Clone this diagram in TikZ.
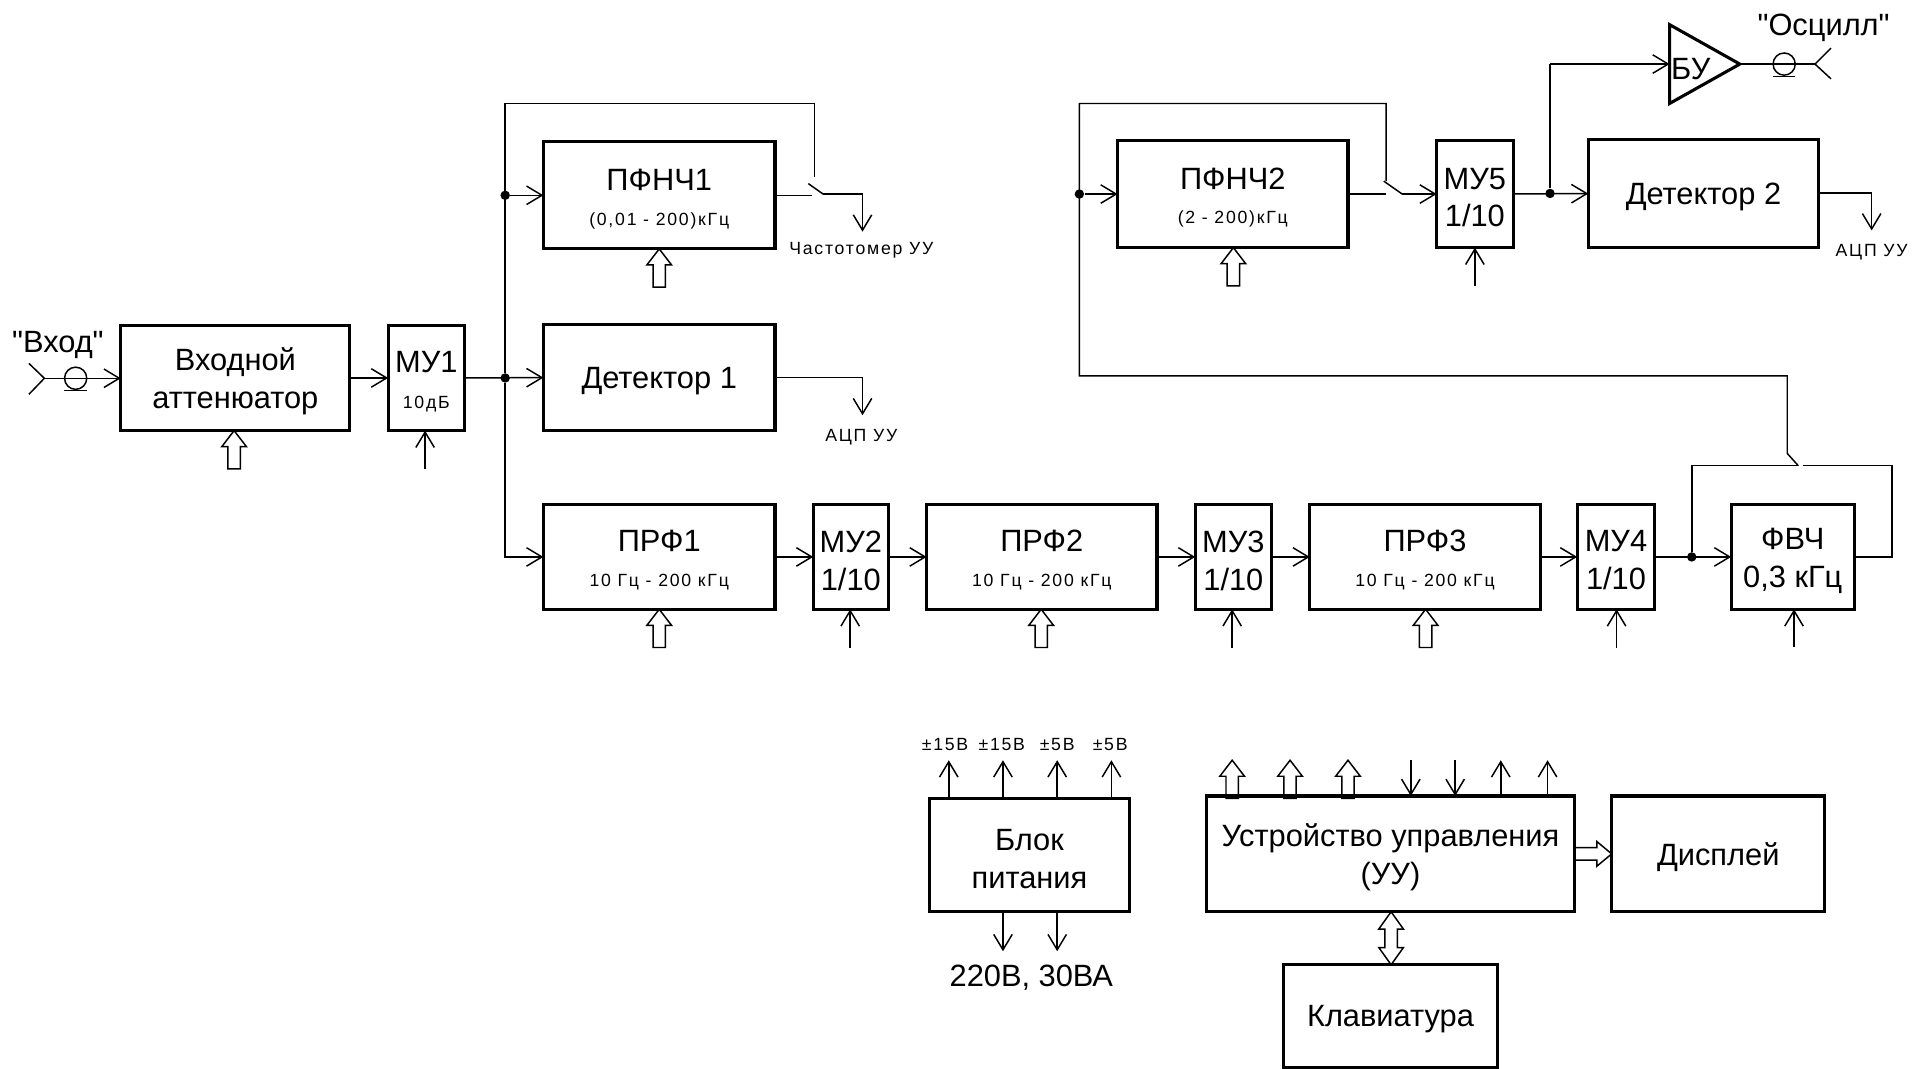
\documentclass[tikz,border=0pt]{standalone}
\usepackage{fontspec}
\setmainfont{Liberation Sans}
\newfontfamily\smf[LetterSpace=10]{Liberation Sans}
\newfontfamily\qf{Liberation Sans}
\usetikzlibrary{arrows.meta,calc}
\newcommand\bigf{\fontsize{15}{18.5}\selectfont}
\newcommand\smlf{\smf\fontsize{8.6}{10}\selectfont}
\tikzset{
  box/.style={draw,line width=1.5pt,inner sep=0pt,outer sep=0pt},
  ln/.style={line width=0.72pt,line join=miter},
  conn/.style={ln,-{Straight Barb[length=7.5pt,width=9pt,line width=0.72pt]}},
  dotn/.style={circle,fill=black,inner sep=0pt,minimum size=4.6pt},
  lbl/.style={inner sep=0pt,align=center,font=\bigf,yshift=-1.7pt},
  slbl/.style={inner sep=0pt,align=center,font=\smlf,yshift=-1.2pt},
  holarrow/.pic={\draw[ln] (0,0)--(-10,13)--(-5,13)--(-5,31)--(5,31)--(5,13)--(10,13)--cycle;},
}
\newcommand\blk[6]{%
  \pgfmathsetmacro\cxx{(#2+#4)/2}\pgfmathsetmacro\cyy{(#3+#5)/2}%
  \node[box,minimum width={(#4-#2)*0.6pt},minimum height={(#5-#3)*0.6pt}] (#1) at (\cxx,\cyy) {};
  \node[lbl] (#1t) at (#1) {#6};}
% control input from below: node, x, free-end y
\newcommand\ctl[3]{\coordinate (f#1) at (#2,#3); \draw[conn] (f#1) -- (f#1 |- #1.south);}
\newcommand\hol[2]{\coordinate (h#1) at (#2,0); \pic at (h#1 |- #1.south) {holarrow};}
\begin{document}
\begin{tikzpicture}[x=0.6pt,y=-0.6pt]
\useasboundingbox (0,0) rectangle (1568,867);
% blocks
\blk{att}{98}{264}{284}{349.5}{Входной\\аттенюатор}
\blk{muo}{315}{264}{377}{349.5}{МУ1\\[-1pt]{\smlf 10дБ}}
\blk{pfa}{441}{115}{629}{202}{ПФНЧ1\\[-1.5pt]{\smlf (0,01 - 200)кГц}}
\blk{deta}{441}{263}{629}{349.5}{Детектор 1}
\blk{prfa}{441}{409.5}{629}{494.5}{ПРФ1\\[-1.5pt]{\smlf 10 Гц - 200 кГц}}
\blk{mub}{660}{409.5}{721}{494.5}{МУ2\\1/10}
\blk{prfb}{752}{409.5}{939}{494.5}{ПРФ2\\[-1.5pt]{\smlf 10 Гц - 200 кГц}}
\blk{muc}{970}{409.5}{1032}{494.5}{МУ3\\1/10}
\blk{prfc}{1063}{409.5}{1250}{494.5}{ПРФ3\\[-1.5pt]{\smlf 10 Гц - 200 кГц}}
\blk{mud}{1280}{409.5}{1343}{494.5}{МУ4\\1/10}
\blk{fvc}{1405}{409.5}{1505}{494.5}{ФВЧ\\0,3 кГц}
\blk{pfb}{907}{114}{1094}{201}{ПФНЧ2\\[-1.5pt]{\smlf (2 - 200)кГц}}
\blk{mue}{1166}{114}{1228}{201}{МУ5\\1/10}
\blk{detb}{1289}{113}{1476}{200.5}{Детектор 2}
\blk{blok}{754}{648}{917}{740}{Блок\\питания}
\blk{uu}{979}{646}{1278}{740}{Устройство управления\\(УУ)}
\blk{dsp}{1308}{646}{1481}{739.5}{Дисплей}
\blk{kla}{1042}{783}{1215}{866}{Клавиатура}
% buffer
\coordinate (ba) at (1355,20); \coordinate (bb) at (1355,84); \coordinate (bc) at (1412,52);
\draw[line width=1.5pt,line join=miter] (ba)--(bc)--(bb)--cycle;
\node[lbl,anchor=west] (bu) at (1356,53) {БУ};
% input connector
\node[lbl] (vh) at (47,277) {\qf"Вход"};
\coordinate (iv) at (36,307); \coordinate (iu) at (23.5,295); \coordinate (id) at (23.5,320);
\draw[ln] (iu)--(iv)--(id);
\draw[conn] (iv) -- (iv -| att.west);
\draw[ln] (61.4,307) ellipse (9 and 9);
\draw[ln] (52,317) -- (70.5,317);
% main line
\draw[conn] (att) -- (muo);
\node[dotn] (ja) at (410,306.75) {};
\node[dotn] (jb) at (410,158.5) {};
\draw[conn] (muo) -- (deta);
\draw[conn] (ja) |- (prfa);
\draw[conn] (jb) -- (pfa);
\coordinate (tl) at (410,84); \coordinate (tr) at (661,84); \coordinate (sa) at (661,144);
\draw[ln] (ja) -- (tl) -- (tr) -- (sa);
\coordinate (sb) at (656,149); \coordinate (sc) at (668,157.5); \coordinate (sd) at (659,158.5); \coordinate (se) at (700,188);
\draw[ln] (pfa) -- (sd);
\draw[ln] (sb) -- (sc);
\draw[conn] (sc) -| (se);
\node[slbl] (lf) at (699,201) {Частотомер УУ};
\coordinate (de) at (700,337);
\draw[conn] (deta) -| (de);
\node[slbl] (la) at (699,353) {АЦП УУ};
% chain
\draw[conn] (prfa) -- (mub);
\draw[conn] (mub) -- (prfb);
\draw[conn] (prfb) -- (muc);
\draw[conn] (muc) -- (prfc);
\draw[conn] (prfc) -- (mud);
\draw[conn] (mud) -- (fvc);
\node[dotn] (jc) at (1373,452) {};
\coordinate (ga) at (1373,378); \coordinate (gb) at (1463,378); \coordinate (gc) at (1535.5,378); \coordinate (gd) at (1535.5,452);
\draw[ln] (jc) -- (ga) -- (1459.5,378);
\draw[ln] (gb) -- (gc) -- (gd) -- (fvc);
\coordinate (ha) at (1450.5,368); \coordinate (hb) at (1459.5,378);
\draw[ln] (hb) -- (ha) -- (1450.5,305) -- (876,305) -- (876,84) -- (1125,84) -- (1125,147);
\node[dotn] (jd) at (876,157.5) {};
\draw[conn] (jd) -- (pfb);
\coordinate (ka) at (1123,147); \coordinate (kb) at (1138,157.5);
\draw[ln] (ka) -- (kb);
\draw[ln] (pfb) -- (1125,157.5);
\draw[conn] (kb) -- (mue);
\node[dotn] (je) at (1258,157) {};
\draw[conn] (mue) -- (detb);
\coordinate (bi) at (1258,52);
\draw[ln] (je) -- (bi);
\draw[conn] (bi) -- (1355,52);
\draw[ln] (bc) -- (1473,52);
\draw[ln] (1473,52) -- (1486,39);
\draw[ln] (1473,52) -- (1486,64);
\draw[ln] (1448,52) ellipse (9 and 9);
\draw[ln] (1439,62) -- (1457,62);
\node[lbl] (lo) at (1480,20) {\qf"Осцилл"};
\coordinate (ds) at (1519,187);
\draw[conn] (detb) -| (ds);
\node[slbl] (lb) at (1519,203) {АЦП УУ};
% control inputs
\hol{att}{190}
\ctl{muo}{345}{381}
\hol{pfa}{535}
\hol{prfa}{535}
\ctl{mub}{690}{526}
\hol{prfb}{845}
\ctl{muc}{1000}{526}
\hol{prfc}{1157}
\ctl{mud}{1312}{526}
\ctl{fvc}{1456}{525}
\hol{pfb}{1001}
\ctl{mue}{1197}{232}
% power
\foreach \n/\x in {a/770,b/814,c/858,d/902}{
  \coordinate (p\n) at (\x,617);
  \draw[conn] (p\n |- blok.north) -- (p\n);
}
\node[slbl] (va) at (767,602) {±15В};
\node[slbl] (vb) at (813,602) {±15В};
\node[slbl] (vc) at (858,602) {±5В};
\node[slbl] (vd) at (901,602) {±5В};
\foreach \n/\x in {e/814,f/858}{
  \coordinate (p\n) at (\x,772);
  \draw[conn] (p\n |- blok.south) -- (p\n);
}
\node[lbl] (lp) at (837,791) {220В, 30ВА};
% control unit
\foreach \n/\x in {a/1000,b/1047,c/1094}{
  \coordinate (u\n) at (\x,617);
  \pic at (u\n) {holarrow};
}
\foreach \n/\x in {d/1145,e/1181}{
  \coordinate (u\n) at (\x,617);
  \draw[conn] (u\n) -- (u\n |- uu.north);
}
\foreach \n/\x in {f/1218,g/1256}{
  \coordinate (u\n) at (\x,617);
  \draw[conn] (u\n |- uu.north) -- (u\n);
}
\draw[ln] (1278,688)--(1296,688)--(1296,683)--(1308,693)--(1296,703)--(1296,698)--(1278,698);
\draw[ln] (1129,740)--(1119,754)--(1124,754)--(1124,769)--(1119,769)--(1129,783)--(1139,769)--(1134,769)--(1134,754)--(1139,754)--cycle;
\end{tikzpicture}
\end{document}
